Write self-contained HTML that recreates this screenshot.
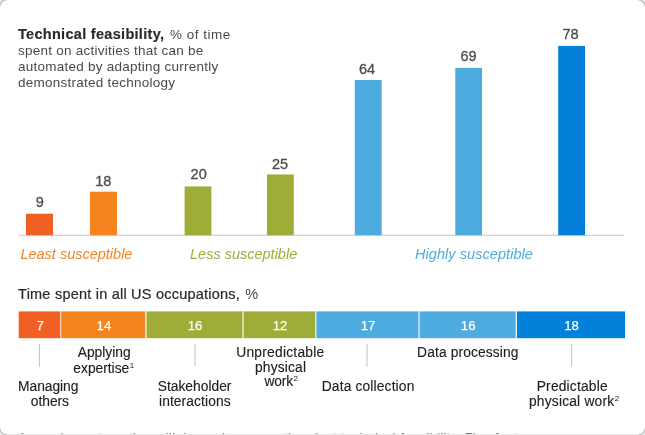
<!DOCTYPE html>
<html>
<head>
<meta charset="utf-8">
<title>Technical feasibility of automation</title>
<style>
html,body{margin:0;padding:0;}
body{width:645px;height:435px;overflow:hidden;background:#ededed;font-family:"Liberation Sans",sans-serif;color:#4d4d4d;}
#card{position:absolute;left:0;top:0;width:645px;height:435px;overflow:hidden;}
#frame{position:absolute;left:0;top:0;}
#in{position:absolute;left:0;top:0;width:645px;height:434px;overflow:hidden;}
.abs{position:absolute;}
#title{left:18px;top:26.6px;width:260px;font-size:13.5px;line-height:16.1px;color:#4a4a4a;letter-spacing:0.25px;white-space:nowrap;}
#title b{color:#2a2a2a;-webkit-text-stroke:0.15px #2a2a2a;font-weight:bold;font-size:14.5px;letter-spacing:0.3px;line-height:0;}
.val{position:absolute;width:60px;text-align:center;font-size:14.5px;line-height:14px;color:#4c4c4c;-webkit-text-stroke:0.3px #4c4c4c;transform:scaleY(1.07);transform-origin:50% 12px;}
.grp{position:absolute;font-style:italic;font-size:14.5px;line-height:16px;white-space:nowrap;}
#t2{left:18.1px;top:285.6px;font-size:14.5px;line-height:16px;color:#2b2b2b;white-space:nowrap;letter-spacing:0.22px;}
#t2 span{-webkit-text-stroke:0.22px #2b2b2b;}
#t2 i{font-style:normal;color:#444;margin-left:1px;}
.seg{position:absolute;top:311.4px;height:26.9px;color:#fff;font-size:13.2px;line-height:29.7px;text-align:center;-webkit-text-stroke:0.25px #fff;box-sizing:border-box;padding-left:1.4px;letter-spacing:0.1px;}
.ln{position:absolute;font-size:13.8px;line-height:15px;color:#202020;white-space:nowrap;-webkit-text-stroke:0.12px #202020;}
.ln sup{font-size:8px;line-height:0;vertical-align:baseline;position:relative;top:-5px;margin-left:0.5px;letter-spacing:0;-webkit-text-stroke:0;}
#foot{left:18px;top:430.3px;font-size:13.5px;line-height:15px;color:#777;white-space:nowrap;letter-spacing:0.2px;}
</style>
</head>
<body>
<div id="card"><svg id="frame" width="645" height="435" viewBox="0 0 645 435"><rect x="-0.5" y="-0.5" width="646" height="435.75" rx="7.9" ry="7.9" fill="#fff" stroke="#9a9a9a" stroke-width="1"/></svg><div id="in">

<svg id="shapes" width="645" height="435" viewBox="0 0 645 435" style="position:absolute;left:0;top:0">
<rect x="19" y="234.7" width="605" height="1.3" fill="#d2d2d2"/>
<rect x="26.0" y="213.7" width="27.0" height="21.5" fill="#f06022"/>
<rect x="90.0" y="191.7" width="27.0" height="43.5" fill="#f5841f"/>
<rect x="184.6" y="186.45" width="26.8" height="48.75" fill="#9fad38"/>
<rect x="267.0" y="174.45" width="26.8" height="60.75" fill="#9fad38"/>
<rect x="354.8" y="80.0" width="26.9" height="155.2" fill="#4eabe0"/>
<rect x="455.3" y="67.9" width="26.7" height="167.3" fill="#4eabe0"/>
<rect x="558.2" y="45.9" width="26.8" height="189.3" fill="#0380d9"/>
<rect x="18.7" y="311.4" width="41.6" height="26.8" fill="#f06022"/>
<rect x="61.2" y="311.4" width="84.1" height="26.8" fill="#f5841f"/>
<rect x="146.5" y="311.4" width="96.0" height="26.8" fill="#9fad38"/>
<rect x="243.6" y="311.4" width="71.7" height="26.8" fill="#9fad38"/>
<rect x="316.4" y="311.4" width="102.1" height="26.8" fill="#4eabe0"/>
<rect x="419.6" y="311.4" width="96.1" height="26.8" fill="#4eabe0"/>
<rect x="516.9" y="311.4" width="108.1" height="26.8" fill="#0380d9"/>
<rect x="38.95" y="344" width="1.1" height="22.6" fill="#c6c6c6"/>
<rect x="194.45" y="344" width="1.1" height="22.6" fill="#c6c6c6"/>
<rect x="366.45" y="344" width="1.1" height="22.6" fill="#c6c6c6"/>
<rect x="571.05" y="344" width="1.1" height="22.6" fill="#c6c6c6"/>
</svg>
<div id="title" class="abs"><b>Technical feasibility,</b><span style="letter-spacing:0.5px;margin-left:1.5px"> % of time</span><br>spent on activities that can be<br>automated by adapting currently<br>demonstrated technology</div>

<div class="val" style="left:9.80px;top:195.00px">9</div>
<div class="val" style="left:73.25px;top:174.00px">18</div>
<div class="val" style="left:168.65px;top:167.00px">20</div>
<div class="val" style="left:250.00px;top:157.00px">25</div>
<div class="val" style="left:337.00px;top:62.00px">64</div>
<div class="val" style="left:438.55px;top:49.40px">69</div>
<div class="val" style="left:540.60px;top:27.00px">78</div>
<div class="grp" style="left:20.4px;top:246px;color:#f5841f">Least susceptible</div>
<div class="grp" style="left:190px;top:246px;color:#9fad38">Less susceptible</div>
<div class="grp" style="left:415px;top:246px;letter-spacing:0.06px;color:#4eabe0">Highly susceptible</div>

<div id="t2" class="abs"><span>Time spent in all US occupations,</span><i> %</i></div>

<div class="seg" style="left:18.6px;width:41.7px">7</div>
<div class="seg" style="left:61.2px;width:84.1px">14</div>
<div class="seg" style="left:146.3px;width:96.2px">16</div>
<div class="seg" style="left:243.5px;width:71.8px">12</div>
<div class="seg" style="left:316.3px;width:102.2px">17</div>
<div class="seg" style="left:419.5px;width:96.2px">16</div>
<div class="seg" style="left:516.8px;width:108.2px">18</div>

<div class="ln" id="a1" style="left:77.69px;top:344.71px;letter-spacing:0.007px">Applying</div>
<div class="ln" id="a2" style="left:73.33px;top:360.71px;letter-spacing:-0.011px">expertise<sup>1</sup></div>
<div class="ln" id="m1" style="left:18.11px;top:378.71px;letter-spacing:-0.054px">Managing</div>
<div class="ln" id="m2" style="left:30.86px;top:393.71px;letter-spacing:-0.038px">others</div>
<div class="ln" id="s1" style="left:157.74px;top:378.71px;letter-spacing:0.006px">Stakeholder</div>
<div class="ln" id="s2" style="left:159.00px;top:393.71px;letter-spacing:0.094px">interactions</div>
<div class="ln" id="u1" style="left:236.19px;top:344.71px;letter-spacing:0.240px">Unpredictable</div>
<div class="ln" id="u2" style="left:255.00px;top:359.71px;letter-spacing:0.158px">physical</div>
<div class="ln" id="u3" style="left:264.42px;top:373.71px;letter-spacing:-0.146px">work<sup>2</sup></div>
<div class="ln" id="d1" style="left:321.71px;top:378.71px;letter-spacing:0.152px">Data collection</div>
<div class="ln" id="d2" style="left:417.11px;top:344.71px;letter-spacing:0.120px">Data processing</div>
<div class="ln" id="p1" style="left:536.71px;top:378.71px;letter-spacing:0.189px">Predictable</div>
<div class="ln" id="p2" style="left:529.00px;top:393.71px;letter-spacing:0.192px">physical work<sup>2</sup></div>
<div id="foot" class="abs">Assuming automation will depend on more than just technical feasibility. Five factors</div>

</div></div>
</body>
</html>
